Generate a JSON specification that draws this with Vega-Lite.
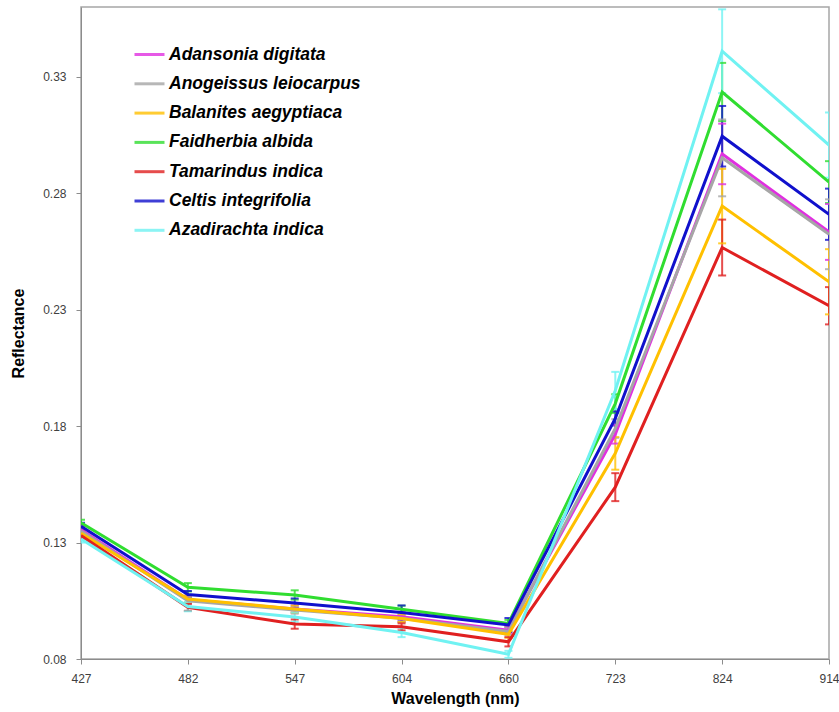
{
  "$schema": "https://vega.github.io/schema/vega-lite/v6.json",
  "width": 748,
  "height": 652,
  "autosize": {"type": "none"},
  "padding": {"left": 81, "top": 7, "right": 10, "bottom": 53},
  "background": "white",
  "config": {
    "view": {"stroke": "#A6A6A6", "strokeWidth": 1.5},
    "axis": {
      "labelFont": "Liberation Sans",
      "labelFontSize": 12,
      "labelColor": "#404040",
      "titleFont": "Liberation Sans",
      "titleFontSize": 16,
      "titleFontWeight": "bold",
      "titleColor": "#000000",
      "domainColor": "#8C8C8C",
      "tickColor": "#8C8C8C",
      "tickSize": 5,
      "grid": false
    },
    "legend": {
      "labelFont": "Liberation Sans",
      "labelFontSize": 17.5,
      "labelFontWeight": "bold",
      "labelFontStyle": "italic",
      "labelColor": "#000000",
      "labelLimit": 400,
      "symbolType": "stroke",
      "symbolSize": 900,
      "symbolStrokeWidth": 3,
      "rowPadding": 4.3,
      "labelOffset": 3
    }
  },
  "data": {
    "values": [
      {"wl": "427", "sp": "Adansonia digitata", "r": 0.1355, "lo": 0.1340, "hi": 0.1370},
      {"wl": "482", "sp": "Adansonia digitata", "r": 0.1055, "lo": 0.1040, "hi": 0.1070},
      {"wl": "547", "sp": "Adansonia digitata", "r": 0.1015, "lo": 0.1000, "hi": 0.1030},
      {"wl": "604", "sp": "Adansonia digitata", "r": 0.0981, "lo": 0.0961, "hi": 0.1001},
      {"wl": "660", "sp": "Adansonia digitata", "r": 0.0924, "lo": 0.0909, "hi": 0.0939},
      {"wl": "723", "sp": "Adansonia digitata", "r": 0.1765, "lo": 0.1725, "hi": 0.1805},
      {"wl": "824", "sp": "Adansonia digitata", "r": 0.2969, "lo": 0.2839, "hi": 0.3099},
      {"wl": "914", "sp": "Adansonia digitata", "r": 0.2634, "lo": 0.2514, "hi": 0.2754},

      {"wl": "427", "sp": "Anogeissus leiocarpus", "r": 0.1350, "lo": 0.1335, "hi": 0.1365},
      {"wl": "482", "sp": "Anogeissus leiocarpus", "r": 0.1050, "lo": 0.1035, "hi": 0.1065},
      {"wl": "547", "sp": "Anogeissus leiocarpus", "r": 0.1010, "lo": 0.0995, "hi": 0.1025},
      {"wl": "604", "sp": "Anogeissus leiocarpus", "r": 0.0975, "lo": 0.0960, "hi": 0.0990},
      {"wl": "660", "sp": "Anogeissus leiocarpus", "r": 0.0918, "lo": 0.0903, "hi": 0.0933},
      {"wl": "723", "sp": "Anogeissus leiocarpus", "r": 0.1790, "lo": 0.1750, "hi": 0.1830},
      {"wl": "824", "sp": "Anogeissus leiocarpus", "r": 0.2952, "lo": 0.2787, "hi": 0.3117},
      {"wl": "914", "sp": "Anogeissus leiocarpus", "r": 0.2624, "lo": 0.2474, "hi": 0.2774},

      {"wl": "427", "sp": "Balanites aegyptiaca", "r": 0.1340, "lo": 0.1325, "hi": 0.1355},
      {"wl": "482", "sp": "Balanites aegyptiaca", "r": 0.1058, "lo": 0.1043, "hi": 0.1073},
      {"wl": "547", "sp": "Balanites aegyptiaca", "r": 0.1015, "lo": 0.1000, "hi": 0.1030},
      {"wl": "604", "sp": "Balanites aegyptiaca", "r": 0.0974, "lo": 0.0959, "hi": 0.0989},
      {"wl": "660", "sp": "Balanites aegyptiaca", "r": 0.0906, "lo": 0.0891, "hi": 0.0921},
      {"wl": "723", "sp": "Balanites aegyptiaca", "r": 0.1683, "lo": 0.1613, "hi": 0.1753},
      {"wl": "824", "sp": "Balanites aegyptiaca", "r": 0.2745, "lo": 0.2585, "hi": 0.2905},
      {"wl": "914", "sp": "Balanites aegyptiaca", "r": 0.2420, "lo": 0.2280, "hi": 0.2560},

      {"wl": "427", "sp": "Faidherbia albida", "r": 0.1385, "lo": 0.1372, "hi": 0.1398},
      {"wl": "482", "sp": "Faidherbia albida", "r": 0.1108, "lo": 0.1090, "hi": 0.1126},
      {"wl": "547", "sp": "Faidherbia albida", "r": 0.1075, "lo": 0.1055, "hi": 0.1095},
      {"wl": "604", "sp": "Faidherbia albida", "r": 0.1014, "lo": 0.0999, "hi": 0.1029},
      {"wl": "660", "sp": "Faidherbia albida", "r": 0.0953, "lo": 0.0938, "hi": 0.0968},
      {"wl": "723", "sp": "Faidherbia albida", "r": 0.1897, "lo": 0.1857, "hi": 0.1937},
      {"wl": "824", "sp": "Faidherbia albida", "r": 0.3235, "lo": 0.3110, "hi": 0.3360},
      {"wl": "914", "sp": "Faidherbia albida", "r": 0.2848, "lo": 0.2758, "hi": 0.2938},

      {"wl": "427", "sp": "Tamarindus indica", "r": 0.1330, "lo": 0.1315, "hi": 0.1345},
      {"wl": "482", "sp": "Tamarindus indica", "r": 0.1022, "lo": 0.1007, "hi": 0.1037},
      {"wl": "547", "sp": "Tamarindus indica", "r": 0.0950, "lo": 0.0930, "hi": 0.0970},
      {"wl": "604", "sp": "Tamarindus indica", "r": 0.0938, "lo": 0.0923, "hi": 0.0953},
      {"wl": "660", "sp": "Tamarindus indica", "r": 0.0874, "lo": 0.0854, "hi": 0.0894},
      {"wl": "723", "sp": "Tamarindus indica", "r": 0.1538, "lo": 0.1478, "hi": 0.1598},
      {"wl": "824", "sp": "Tamarindus indica", "r": 0.2567, "lo": 0.2447, "hi": 0.2687},
      {"wl": "914", "sp": "Tamarindus indica", "r": 0.2317, "lo": 0.2237, "hi": 0.2397},

      {"wl": "427", "sp": "Celtis integrifolia", "r": 0.1370, "lo": 0.1355, "hi": 0.1385},
      {"wl": "482", "sp": "Celtis integrifolia", "r": 0.1077, "lo": 0.1062, "hi": 0.1092},
      {"wl": "547", "sp": "Celtis integrifolia", "r": 0.1040, "lo": 0.1020, "hi": 0.1060},
      {"wl": "604", "sp": "Celtis integrifolia", "r": 0.1000, "lo": 0.0970, "hi": 0.1030},
      {"wl": "660", "sp": "Celtis integrifolia", "r": 0.0946, "lo": 0.0916, "hi": 0.0976},
      {"wl": "723", "sp": "Celtis integrifolia", "r": 0.1833, "lo": 0.1803, "hi": 0.1863},
      {"wl": "824", "sp": "Celtis integrifolia", "r": 0.3045, "lo": 0.2915, "hi": 0.3175},
      {"wl": "914", "sp": "Celtis integrifolia", "r": 0.2710, "lo": 0.2600, "hi": 0.2820},

      {"wl": "427", "sp": "Azadirachta indica", "r": 0.1315, "lo": 0.1300, "hi": 0.1330},
      {"wl": "482", "sp": "Azadirachta indica", "r": 0.1025, "lo": 0.1005, "hi": 0.1045},
      {"wl": "547", "sp": "Azadirachta indica", "r": 0.0980, "lo": 0.0960, "hi": 0.1000},
      {"wl": "604", "sp": "Azadirachta indica", "r": 0.0914, "lo": 0.0894, "hi": 0.0934},
      {"wl": "660", "sp": "Azadirachta indica", "r": 0.0820, "lo": 0.0805, "hi": 0.0835},
      {"wl": "723", "sp": "Azadirachta indica", "r": 0.1953, "lo": 0.1873, "hi": 0.2033},
      {"wl": "824", "sp": "Azadirachta indica", "r": 0.3410, "lo": 0.3230, "hi": 0.3590},
      {"wl": "914", "sp": "Azadirachta indica", "r": 0.3007, "lo": 0.2867, "hi": 0.3147}
    ]
  },
  "encoding": {
    "x": {
      "field": "wl",
      "type": "ordinal",
      "sort": ["427", "482", "547", "604", "660", "723", "824", "914"],
      "scale": {"type": "point", "padding": 0},
      "axis": {"title": "Wavelength (nm)", "labelAngle": 0, "labelPadding": 9, "titlePadding": 6}
    },
    "color": {
      "field": "sp",
      "type": "nominal",
      "scale": {
        "domain": ["Adansonia digitata", "Anogeissus leiocarpus", "Balanites aegyptiaca", "Faidherbia albida", "Tamarindus indica", "Celtis integrifolia", "Azadirachta indica"],
        "range": ["#E030E0", "#A6A6A6", "#FFC000", "#30DD30", "#E02020", "#1010CC", "#70F2F2"]
      },
      "legend": {"title": null, "orient": "none", "legendX": 52, "legendY": 31}
    }
  },
  "layer": [
    {
      "mark": {"type": "rule", "strokeWidth": 2, "opacity": 0.8, "clip": true},
      "encoding": {
        "y": {"field": "lo", "type": "quantitative"},
        "y2": {"field": "hi"}
      }
    },
    {
      "mark": {"type": "tick", "size": 8, "thickness": 2, "opacity": 0.8, "clip": true},
      "encoding": {
        "y": {"field": "lo", "type": "quantitative"}
      }
    },
    {
      "mark": {"type": "tick", "size": 8, "thickness": 2, "opacity": 0.8, "clip": true},
      "encoding": {
        "y": {"field": "hi", "type": "quantitative"}
      }
    },
    {
      "mark": {"type": "line", "strokeWidth": 3, "clip": true},
      "encoding": {
        "y": {
          "field": "r",
          "type": "quantitative",
          "scale": {"domain": [0.08, 0.36], "nice": false, "zero": false},
          "axis": {
            "title": "Reflectance",
            "values": [0.08, 0.13, 0.18, 0.23, 0.28, 0.33],
            "format": ".2f",
            "labelPadding": 10,
            "titlePadding": 16
          }
        }
      }
    }
  ]
}
